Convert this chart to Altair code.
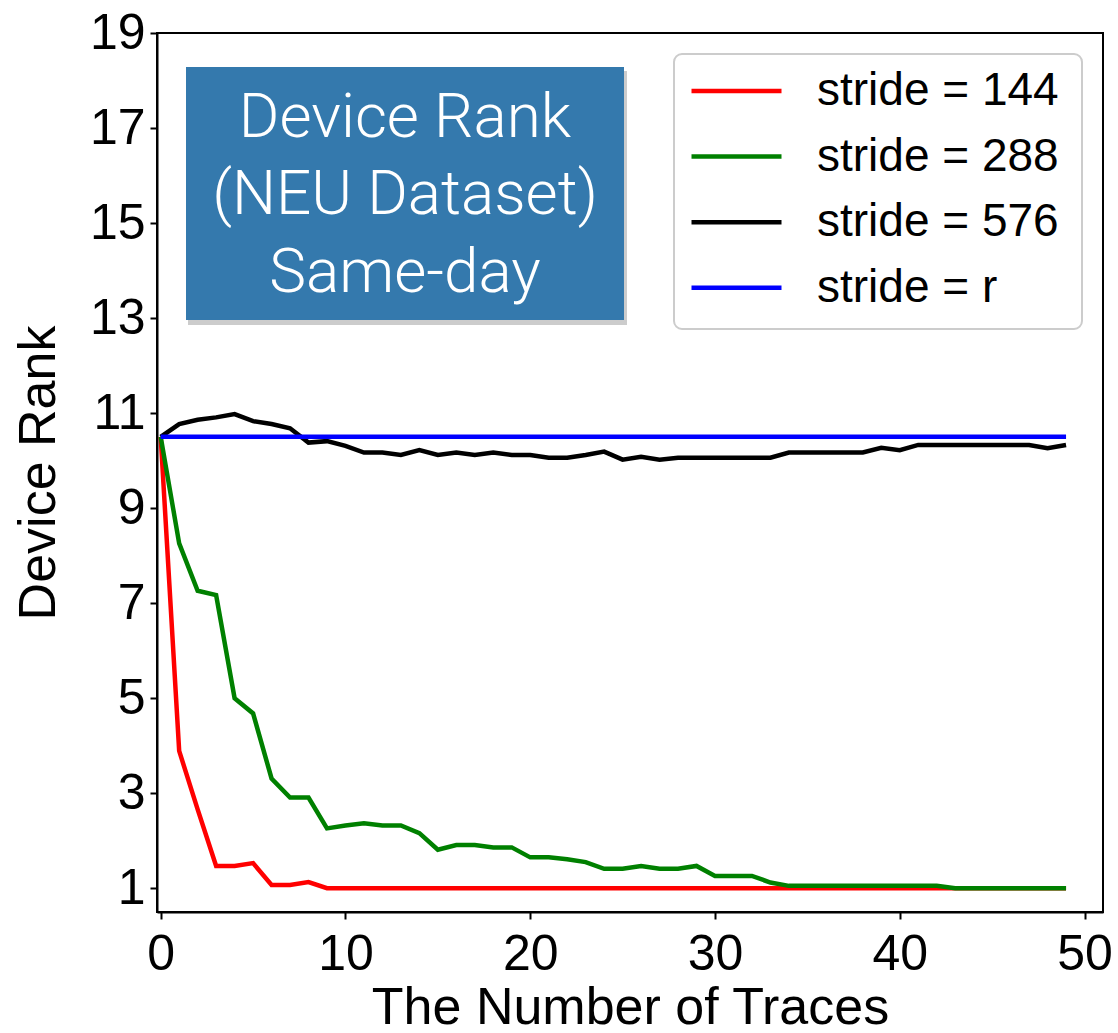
import altair as alt
import pandas as pd

traces = list(range(50))

stride_144 = [10.5, 3.89, 2.66, 1.47, 1.47, 1.53, 1.07, 1.07, 1.13, 1.0,
              1.0, 1.0, 1.0, 1.0, 1.0, 1.0, 1.0, 1.0, 1.0, 1.0,
              1.0, 1.0, 1.0, 1.0, 1.0, 1.0, 1.0, 1.0, 1.0, 1.0,
              1.0, 1.0, 1.0, 1.0, 1.0, 1.0, 1.0, 1.0, 1.0, 1.0,
              1.0, 1.0, 1.0, 1.0, 1.0, 1.0, 1.0, 1.0, 1.0, 1.0]
stride_288 = [10.5, 8.26, 7.26, 7.17, 5.0, 4.68, 3.31, 2.91, 2.91, 2.26,
              2.32, 2.37, 2.32, 2.32, 2.16, 1.81, 1.91, 1.91, 1.86, 1.86,
              1.65, 1.65, 1.61, 1.55, 1.41, 1.41, 1.47, 1.41, 1.41, 1.47,
              1.26, 1.26, 1.26, 1.12, 1.05, 1.05, 1.05, 1.05, 1.05, 1.05,
              1.05, 1.05, 1.05, 1.0, 1.0, 1.0, 1.0, 1.0, 1.0, 1.0]
stride_576 = [10.5, 10.77, 10.86, 10.91, 10.98, 10.83, 10.77, 10.68, 10.38, 10.41,
              10.31, 10.17, 10.17, 10.12, 10.22, 10.12, 10.17, 10.12, 10.17, 10.12,
              10.12, 10.06, 10.06, 10.12, 10.19, 10.02, 10.08, 10.02, 10.06, 10.06,
              10.06, 10.06, 10.06, 10.06, 10.17, 10.17, 10.17, 10.17, 10.17, 10.27,
              10.22, 10.33, 10.33, 10.33, 10.33, 10.33, 10.33, 10.33, 10.26, 10.33]
stride_r = [10.5, 10.5, 10.5, 10.5, 10.5, 10.5, 10.5, 10.5, 10.5, 10.5,
            10.5, 10.5, 10.5, 10.5, 10.5, 10.5, 10.5, 10.5, 10.5, 10.5,
            10.5, 10.5, 10.5, 10.5, 10.5, 10.5, 10.5, 10.5, 10.5, 10.5,
            10.5, 10.5, 10.5, 10.5, 10.5, 10.5, 10.5, 10.5, 10.5, 10.5,
            10.5, 10.5, 10.5, 10.5, 10.5, 10.5, 10.5, 10.5, 10.5, 10.5]

series_names = ["stride = 144", "stride = 288", "stride = 576", "stride = r"]
series_values = [stride_144, stride_288, stride_576, stride_r]
series_colors = ["#ff0000", "#008000", "#000000", "#0000ff"]

x_ticks = [0, 10, 20, 30, 40, 50]
y_ticks = [1, 3, 5, 7, 9, 11, 13, 15, 17, 19]

box_lines = ["Device Rank", "(NEU Dataset)", "Same-day"]

rows = []
for name, vals in zip(series_names, series_values):
    for t, v in zip(traces, vals):
        rows.append({"trace": t, "rank": v, "series": name})
df = pd.DataFrame(rows)

FONT = "Liberation Sans"

lines = alt.Chart(df).mark_line(strokeWidth=4.5).encode(
    x=alt.X("trace:Q",
            scale=alt.Scale(domain=[-0.2, 51], nice=False, zero=False),
            axis=alt.Axis(values=x_ticks, title="The Number of Traces", format="d",
                          labelPadding=10, titlePadding=3)),
    y=alt.Y("rank:Q",
            scale=alt.Scale(domain=[0.5, 19], nice=False, zero=False),
            axis=alt.Axis(values=y_ticks, title="Device Rank", format="d",
                          labelPadding=5, titlePadding=24)),
    color=alt.Color("series:N",
                    scale=alt.Scale(domain=series_names, range=series_colors),
                    legend=alt.Legend(orient="none", legendX=554.5, legendY=33, title=None,
                                      symbolType="M-2,0H2", symbolSize=2025,
                                      symbolStrokeWidth=4.5, labelFontSize=46,
                                      labelFont=FONT, labelColor="black", labelLimit=0,
                                      labelOffset=55.5, padding=0, rowPadding=17.6)),
    detail="series:N",
    order="trace:Q",
)

one = pd.DataFrame({"k": [0]})
legend_box = alt.Chart(one).mark_rect(
    fill="white", stroke="#cccccc", strokeWidth=2, cornerRadius=8
).encode(x=alt.value(517), x2=alt.value(925), y=alt.value(21), y2=alt.value(296))

shadow = alt.Chart(one).mark_rect(color="#555555", opacity=0.3).encode(
    x=alt.value(31), x2=alt.value(470), y=alt.value(38), y2=alt.value(292)
)
box = alt.Chart(one).mark_rect(color="#3479ad").encode(
    x=alt.value(29), x2=alt.value(467), y=alt.value(34), y2=alt.value(287)
)
text_layers = []
for line, ypos in zip(box_lines, [85, 162, 240]):
    text_layers.append(
        alt.Chart(pd.DataFrame({"line": [line]})).mark_text(
            font="Roboto", fontWeight=300, fontSize=62, color="white",
            align="center", baseline="middle"
        ).encode(x=alt.value(248), y=alt.value(ypos), text="line:N")
    )

chart = alt.layer(legend_box, lines, shadow, box, *text_layers).properties(
    width=946, height=879,
    autosize=alt.AutoSizeParams(type="none"),
    padding={"left": 157, "top": 33, "right": 15, "bottom": 121},
).configure_view(
    stroke="black", strokeWidth=2
).configure_axis(
    grid=False, domainColor="black", domainWidth=2, tickColor="black", tickWidth=2,
    tickSize=7, labelFont=FONT, labelFontSize=50, labelColor="black",
    titleFont=FONT, titleFontSize=52, titleFontWeight="normal", titleColor="black"
)

chart.save("out.html", embed_options={"renderer": "svg", "actions": False})
